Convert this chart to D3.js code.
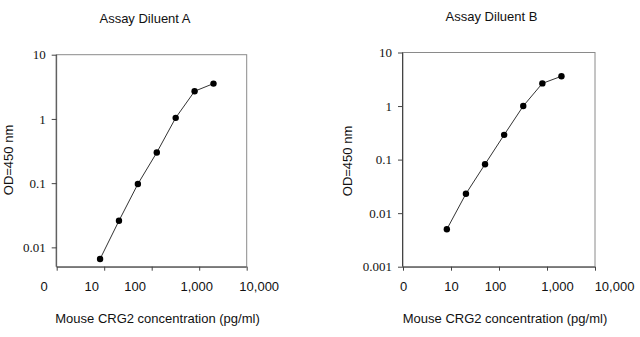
<!DOCTYPE html>
<html>
<meta charset="utf-8">
<style>
body { margin: 0; background: #fff; }
.sans { font-family: "Liberation Sans", Arial, sans-serif; fill: #111; }
.serif { font-family: "Liberation Serif", "Times New Roman", serif; fill: #111; }
.frame { fill: none; stroke: #8a8a8a; stroke-width: 1; }
.curve { fill: none; stroke: #333; stroke-width: 1; }
.axis path, .axis line { stroke: #444; }
</style>
<body>
<svg id="svgid" width="640" height="337"></svg>
</body>
<script src="https://d3js.org/d3.v7.min.js"></script>
<script>
// concentrations, pg/ml (2.5-fold dilution series)
var conc = [8.192, 20.48, 51.2, 128, 320, 800, 2000];
var odA = [0.0066, 0.026, 0.097, 0.30, 1.04, 2.7, 3.55];
var odB = [0.005, 0.023, 0.082, 0.29, 1.0, 2.65, 3.6];

var xTicks = [1, 10, 100, 1000, 10000];
var xTickLabels = ["0", "10", "100", "1,000", "10,000"];
var yTicksA = [0.01, 0.1, 1, 10];
var yTicksB = [0.001, 0.01, 0.1, 1, 10];
var yTickLabels = {0.001: "0.001", 0.01: "0.01", 0.1: "0.1", 1: "1", 10: "10"};

var svg = d3.select("svg");

function drawPanel(opt) {
  var g = svg.append("g");
  var x = d3.scaleLog().domain([1, 10000]).range([opt.left, opt.right]);
  var y = d3.scaleLog().domain(opt.ydomain).range([opt.bottom, opt.top]);

  // frame (top and right)
  g.append("rect").attr("class", "frame")
    .attr("x", opt.left).attr("y", opt.top)
    .attr("width", opt.right - opt.left).attr("height", opt.bottom - opt.top);

  var xa = g.append("g").attr("class", "axis")
    .attr("transform", "translate(0," + opt.bottom + ")")
    .call(d3.axisBottom(x).tickValues(xTicks).tickSize(4).tickSizeOuter(0)
      .tickFormat(function(d, i) { return xTickLabels[i]; }));
  xa.select(".domain").attr("d", "M" + opt.left + ",0.5H" + opt.right);
  xa.selectAll("text").attr("class", "sans").style("font-size", "13px")
    .attr("y", 15).attr("dy", "0.71em")
    .attr("x", function(d, i) { return opt.shift[i]; });

  var ya = g.append("g").attr("class", "axis")
    .attr("transform", "translate(" + opt.left + ",0)")
    .call(d3.axisLeft(y).tickValues(opt.yticks).tickSize(5).tickPadding(6).tickSizeOuter(0)
      .tickFormat(function(d) { return yTickLabels[d]; }));
  ya.select(".domain").attr("d", "M-0.5," + opt.top + "V" + opt.bottom);
  ya.selectAll("text").attr("class", "serif").style("font-size", "13px");
  g.selectAll(".axis").attr("font-family", null).attr("font-size", null);

  var line = d3.line().x(function(d) { return x(d[0]); }).y(function(d) { return y(d[1]); });
  var pts = d3.zip(conc, opt.values);
  g.append("path").attr("class", "curve").attr("d", line(pts));
  g.selectAll("circle.pt").data(pts).enter().append("circle")
    .attr("cx", function(d) { return x(d[0]); })
    .attr("cy", function(d) { return y(d[1]); })
    .attr("r", 3.2).style("fill", "#000");

  g.append("text").attr("class", "sans").style("font-size", "13px")
    .attr("text-anchor", "middle").attr("x", opt.titleX).attr("y", opt.titleY)
    .text(opt.title);
  g.append("text").attr("class", "sans").style("font-size", "13px")
    .attr("text-anchor", "middle").attr("x", opt.xtitleX).attr("y", 323)
    .text("Mouse CRG2 concentration (pg/ml)");
  g.append("text").attr("class", "sans").style("font-size", "13px")
    .attr("text-anchor", "middle")
    .attr("transform", "translate(" + opt.ytitleX + "," + opt.ytitleY + ") rotate(-90)")
    .text("OD=450 nm");
}

drawPanel({
  left: 56.7, right: 246.7, top: 54.7, bottom: 266.7,
  ydomain: [0.005, 10], yticks: yTicksA, values: odA,
  shift: [-13, -13, -17, -3, 12],
  title: "Assay Diluent A", titleX: 145, titleY: 23,
  xtitleX: 157.5, ytitleX: 12.5, ytitleY: 160
});

drawPanel({
  left: 403, right: 595, top: 52.5, bottom: 266.7,
  ydomain: [0.001, 10], yticks: yTicksB, values: odB,
  shift: [0, 0, -4, 10, 19],
  title: "Assay Diluent B", titleX: 491.5, titleY: 21,
  xtitleX: 505, ytitleX: 351.5, ytitleY: 161
});
</script>
</html>
